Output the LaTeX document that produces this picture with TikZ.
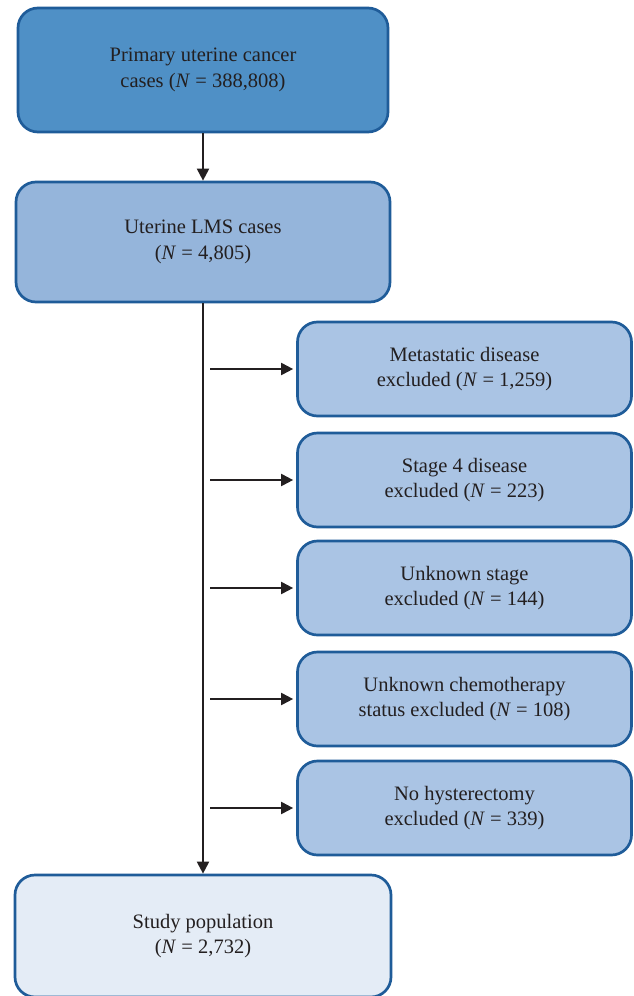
\documentclass[tikz,border=0pt]{standalone}
\usepackage{fontspec}
\setmainfont{Liberation Serif}
\usetikzlibrary{arrows.meta}
\definecolor{bord}{HTML}{1F5C99}
\definecolor{fillA}{HTML}{4F90C6}
\definecolor{fillB}{HTML}{95B5DB}
\definecolor{fillC}{HTML}{AAC4E4}
\definecolor{fillD}{HTML}{E4ECF6}
\definecolor{ink}{HTML}{231F20}
\begin{document}
\begin{tikzpicture}[x=1pt,y=-1pt,
  box/.style={draw=bord, line width=2.7pt, rounded corners=20pt, align=center,
    text=ink, font=\fontsize{20.5}{25.5}\selectfont, inner sep=0pt},
  mainbox/.style={box, minimum width=372pt, minimum height=122pt},
  exbox/.style={box, fill=fillC, minimum width=334pt, minimum height=94pt},
  arr/.style={draw=ink, line width=2pt, -{Triangle[length=12pt,width=12pt]}}
]
\useasboundingbox (0,0) rectangle (633,996);
\node[mainbox, fill=fillA, minimum width=370pt, minimum height=124pt] (b1) at (203,70) {Primary uterine cancer\\cases (\textit{N} = 388,808)};
\node[mainbox, fill=fillB, minimum width=374pt, minimum height=120pt] (b2) at (203,242) {Uterine LMS cases\\(\textit{N} = 4,805)};
\node[mainbox, fill=fillD, minimum width=376pt] (b3) at (203,936) {Study population\\(\textit{N} = 2,732)};
\node[exbox] (e1) at (464.5,369) {Metastatic disease\\excluded (\textit{N} = 1,259)};
\node[exbox] (e2) at (464.5,480) {Stage 4 disease\\excluded (\textit{N} = 223)};
\node[exbox] (e3) at (464.5,588) {Unknown stage\\excluded (\textit{N} = 144)};
\node[exbox] (e4) at (464.5,699) {Unknown chemotherapy\\status excluded (\textit{N} = 108)};
\node[exbox] (e5) at (464.5,808) {No hysterectomy\\excluded (\textit{N} = 339)};
\draw[arr] (b1) -- (b2);
\draw[arr] (b2) -- (b3);
\foreach \i/\y in {1/369,2/480,3/588,4/699,5/808}{
  \coordinate (s\i) at (210,\y);
  \draw[arr, shorten >=3pt] (s\i) -- (e\i.west);
}
\end{tikzpicture}
\end{document}
